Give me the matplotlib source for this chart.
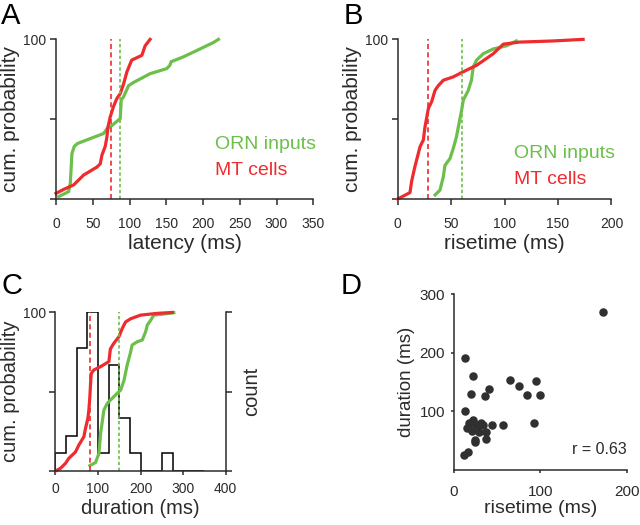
import matplotlib
matplotlib.use("Agg")
import matplotlib.pyplot as plt
import numpy as np

plt.rcParams['font.family'] = ['Liberation Sans', 'DejaVu Sans']

GREEN = '#6cbf4a'
RED = '#ee2b2f'
INK = '#2b2b2b'

# --- panel A: latency cumulative curves (ms, %)
lat_orn_x = [3.6, 17.2, 19.5, 21.7, 24.9, 29.4, 64.7, 69.3, 76, 87.4, 88.7, 91.9, 98.7,
             105.5, 128, 150.7, 155, 156.6, 173, 196, 214, 221]
lat_orn_y = [1.5, 4.6, 10, 28.5, 33, 34.8, 41, 44, 46, 50.4, 62, 64, 71,
             73, 78.5, 81.7, 83.8, 86, 89, 94, 98, 100]
lat_mt_x = [0, 10.4, 24, 37.6, 55.7, 60.2, 62.5, 67, 69.3, 70.6, 73.8, 78.3, 82.8,
            87.4, 91.9, 96.4, 103, 116.8, 121.3, 128]
lat_mt_y = [3.5, 6, 8.8, 15, 20, 22, 27.5, 33, 39, 45, 51.5, 58, 63,
            66, 72, 79.6, 87, 90, 96, 100]
lat_median_mt = 74.7
lat_median_orn = 87.4

# --- panel B: risetime cumulative curves
rise_orn_x = [35, 39.6, 42.7, 44.2, 49, 52, 55, 56.7, 59.8, 61.4, 66, 69, 70.7,
              73.8, 80, 89.4, 101.9, 111]
rise_orn_y = [2.5, 5.6, 14, 21, 25.4, 31.7, 39, 45, 55.6, 62, 68, 74.4, 82.7,
              87, 91, 94, 96, 99]
rise_mt_x = [0, 11.5, 13, 16, 20.9, 24, 25.5, 28.7, 31.8, 34.9, 38, 42.7, 52, 61,
             73.8, 83, 89.4, 92.5, 98.8, 114, 145, 173.5]
rise_mt_y = [0, 4, 11, 20, 32.7, 37, 45, 56.7, 61, 68, 71, 74.4, 76.5, 79.6,
             83.75, 88, 91, 93, 97, 98.3, 99, 100]
rise_median_mt = 28
rise_median_orn = 59.8

# --- panel C: duration cumulative curves + histogram
dur_orn_x = [80.8, 94, 102, 106, 113.7, 121.6, 129, 145, 153, 160.8, 168.6, 176.5,
             180, 192, 204, 212, 215.7, 223.5, 231, 255, 278]
dur_orn_y = [3.4, 5.3, 11, 23.7, 38.4, 42.6, 44.7, 49, 51, 57, 67, 75,
             79.4, 81.5, 82.6, 88, 92, 95, 98.3, 99, 99.8]
dur_mt_x = [0, 11.8, 23.5, 31.4, 47, 55, 66.7, 70.6, 76, 78.4, 80.8, 82.4, 84, 90,
            106, 125.5, 129, 137, 149, 157, 164.7, 176.5, 200, 239, 274.5]
dur_mt_y = [0, 1.7, 4.8, 8, 12, 16.4, 21.6, 27, 33, 38.4, 47, 55, 61.5, 63.7,
            65.8, 69, 77, 80.5, 84.7, 90, 94, 96, 98.3, 99.4, 100]
dur_median_mt = 80.8
dur_median_orn = 149
hist_edges = [0, 25, 50, 75, 100, 125, 150, 175, 200, 225, 250, 275, 300, 325, 350]
hist_counts = [1, 2, 7, 9, 1, 6, 3, 1, 0, 0, 1, 0, 0, 0]

# --- panel D: risetime vs duration scatter
sc_rise = [173, 13, 21.6, 19.3, 35.5, 40, 65, 75, 85, 94.6, 100, 12.7, 92, 57, 43.6,
           31.7, 28, 21.6, 17.8, 14.7, 20.5, 29, 37, 37, 24.7, 24.7, 16.6, 12,
           19.3, 25.5, 33]
sc_dur = [270, 192, 161, 130, 126, 138, 154, 143, 127.5, 152, 127.5, 100, 80, 76, 76,
          80, 76, 85, 80, 72, 66, 64, 64, 53, 51, 47, 30, 26,
          81, 76, 76]


def style_axes(ax, fs_tick=10):
    for s in ['top', 'right']:
        ax.spines[s].set_visible(False)
    for s in ['left', 'bottom']:
        ax.spines[s].set_color(INK)
        ax.spines[s].set_linewidth(1.1)
    ax.tick_params(colors=INK, labelsize=fs_tick, width=1.1)


def cum_axes(ax, xmax, xstep, xlabel, fs_label):
    style_axes(ax)
    ax.set_xlim(0, xmax)
    ax.set_ylim(0, 100)
    ax.set_xticks(np.arange(0, xmax + 1, xstep))
    ax.set_yticks([0, 50, 100])
    ax.set_yticklabels(['', '', '100'])
    ax.set_xlabel(xlabel, fontsize=fs_label, color=INK, labelpad=2)
    ax.set_ylabel('cum. probability', fontsize=fs_label, color=INK, labelpad=2)


fig = plt.figure(figsize=(6.4, 5.25), dpi=100)

# A
axA = fig.add_axes([0.0875, 0.621, 0.402, 0.304])
cum_axes(axA, 350, 50, 'latency (ms)', 15)
axA.tick_params(axis='x', length=4, pad=9)
axA.tick_params(axis='y', length=4, pad=3)
axA.plot(lat_orn_x, lat_orn_y, color=GREEN, lw=2.3, clip_on=False)
axA.plot(lat_mt_x, lat_mt_y, color=RED, lw=2.3, clip_on=False)
axA.plot([lat_median_mt] * 2, [0, 100], color=RED, lw=1.2, ls=(0, (3, 2)))
axA.plot([lat_median_orn] * 2, [0, 100], color=GREEN, lw=1.2, ls=(0, (2, 1.5)))
axA.text(216, 34.4, 'ORN inputs', color=GREEN, fontsize=14, va='center')
axA.text(216, 18, 'MT cells', color=RED, fontsize=14, va='center')

# B
axB = fig.add_axes([0.6214, 0.621, 0.334, 0.304])
cum_axes(axB, 200, 50, 'risetime (ms)', 15)
axB.tick_params(axis='x', length=4, pad=9)
axB.tick_params(axis='y', length=4, pad=3)
axB.plot(rise_orn_x, rise_orn_y, color=GREEN, lw=2.3, clip_on=False)
axB.plot(rise_mt_x, rise_mt_y, color=RED, lw=2.3, clip_on=False)
axB.plot([rise_median_mt] * 2, [0, 100], color=RED, lw=1.2, ls=(0, (3, 2)))
axB.plot([rise_median_orn] * 2, [0, 100], color=GREEN, lw=1.2, ls=(0, (2, 1.5)))
axB.text(109, 28.7, 'ORN inputs', color=GREEN, fontsize=14, va='center')
axB.text(109, 12.5, 'MT cells', color=RED, fontsize=14, va='center')

# C
axC = fig.add_axes([0.0867, 0.1029, 0.266, 0.302])
axC2 = axC.twinx()
cum_axes(axC, 400, 100, 'duration (ms)', 14.5)
axC.tick_params(axis='x', length=3, pad=5)
axC.tick_params(axis='y', length=4, pad=3)
axC2.spines['top'].set_visible(False)
axC2.spines['left'].set_visible(False)
axC2.spines['bottom'].set_visible(False)
axC2.spines['right'].set_color(INK)
axC2.spines['right'].set_linewidth(1.1)
axC2.set_ylim(0, 9)
axC2.set_yticks([0, 4.5, 9])
axC2.set_yticklabels([])
axC2.tick_params(axis='y', length=4, width=1.1, colors=INK)
axC2.set_ylabel('count', fontsize=14.5, color=INK, labelpad=4)
axC2.stairs(hist_counts, hist_edges, color='black', lw=1.1)
axC.set_zorder(axC2.get_zorder() + 1)
axC.patch.set_visible(False)
axC.plot(dur_orn_x, dur_orn_y, color=GREEN, lw=2.3, clip_on=False)
axC.plot(dur_mt_x, dur_mt_y, color=RED, lw=2.3, clip_on=False)
axC.plot([dur_median_mt] * 2, [0, 100], color=RED, lw=1.2, ls=(0, (3, 2)))
axC.plot([dur_median_orn] * 2, [0, 100], color=GREEN, lw=1.2, ls=(0, (2, 1.5)))

# D
axD = fig.add_axes([0.7094, 0.1048, 0.270, 0.3347])
style_axes(axD, fs_tick=11)
axD.set_xlim(0, 200)
axD.set_ylim(0, 300)
axD.set_xticks([0, 100, 200])
axD.set_yticks([100, 200, 300])
axD.tick_params(axis='x', length=2.5, pad=8)
axD.tick_params(axis='y', length=2.5, pad=4)
axD.scatter(sc_rise, sc_dur, s=26, color='#303030', zorder=3, clip_on=False)
axD.set_xlabel('risetime (ms)', fontsize=14, color=INK, labelpad=1)
axD.set_ylabel('duration (ms)', fontsize=13.5, color=INK, labelpad=3)
axD.text(200, 22, 'r = 0.63', fontsize=11.5, color=INK, ha='right', va='bottom')

# panel letters
for lab, x, y in [('A', 0.002, 0.997), ('B', 0.537, 0.997), ('C', 0.002, 0.482), ('D', 0.533, 0.482)]:
    fig.text(x, y, lab, fontsize=21, color='black', ha='left', va='top')

fig.savefig('out.png', dpi=100)
